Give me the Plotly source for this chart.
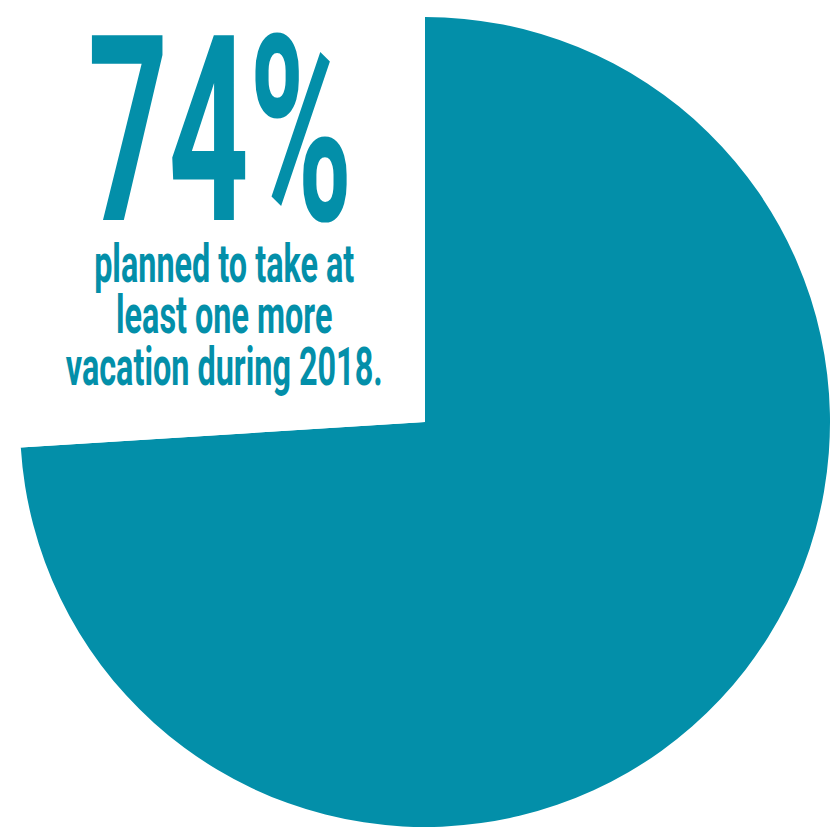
import plotly.graph_objects as go

# Share of respondents planning another vacation in 2018
labels = ["Planned another vacation", "Did not"]
values = [74, 26]
slice_colors = ["#038FA9", "#FFFFFF"]

headline = "74%"
caption_lines = ["planned to take at", "least one more", "vacation during 2018."]

TEAL = "#038FA9"
W, H = 830, 827
FONT = "Roboto, Lato, sans-serif"

# Layout of the text block (pixels from the top-left corner)
HEAD_CX, HEAD_CY, HEAD_SIZE, HEAD_WIDTH = 220, 131, 260, 265
CAP_CX, CAP_SIZE, CAP_WIDTH = 224, 54, 317
CAP_FIRST_BASELINE, CAP_LINE_PX = 282, 51.5

fig = go.Figure(
    go.Pie(
        labels=labels,
        values=values,
        marker=dict(colors=slice_colors, line=dict(width=0)),
        sort=False,
        direction="clockwise",
        rotation=0,
        textinfo="none",
        hoverinfo="skip",
        showlegend=False,
        domain=dict(x=[20 / W, 1.0], y=[0.0, 810 / H]),
    )
)

fig.add_annotation(
    text=f"<b>{headline}</b>",
    x=HEAD_CX / W, y=1 - HEAD_CY / H, xref="paper", yref="paper",
    xanchor="center", yanchor="middle", showarrow=False,
    font=dict(family=FONT, size=HEAD_SIZE, color=TEAL),
)

fig.add_annotation(
    text="<br>".join(f"<b>{line}</b>" for line in caption_lines),
    x=CAP_CX / W, y=1 - 320 / H, xref="paper", yref="paper",
    xanchor="center", yanchor="middle", showarrow=False, align="center",
    font=dict(family=FONT, size=CAP_SIZE, color=TEAL),
)

fig.update_layout(
    width=W, height=H,
    margin=dict(l=0, r=0, t=0, b=0),
    paper_bgcolor="white", plot_bgcolor="white",
)

# Narrow display type: condense the text horizontally and tighten caption leading
condense_js = """
var gd = document.getElementById('{plot_id}');
var ann = gd.querySelectorAll('g.annotation');
var head = ann[0].querySelector('text.annotation-text');
if (head) {
  var hb = head.getBBox();
  var hx = hb.x + hb.width / 2;
  var hs = %(head_w)s / hb.width;
  head.setAttribute('transform',
    'translate(' + hx + ',0) scale(' + hs + ',1) translate(' + (-hx) + ',0)');
}
var cap = ann[1].querySelector('text.annotation-text');
if (cap) {
  var em = %(line_px)s / %(cap_size)s;
  cap.querySelectorAll('tspan.line').forEach(function(ts, k) {
    ts.setAttribute('dy', (k * em) + 'em');
  });
  var cb = cap.getBBox();
  var cx = cb.x + cb.width / 2;
  var cs = %(cap_w)s / cb.width;
  var y0 = parseFloat(cap.getAttribute('y'));
  var m = cap.getCTM();
  var shift = (%(first_base)s - (m.f + m.d * y0)) / m.d;
  cap.setAttribute('transform',
    'translate(0,' + shift + ') translate(' + cx + ',0) scale(' + cs + ',1) translate(' + (-cx) + ',0)');
}
""" % dict(head_w=HEAD_WIDTH, cap_w=CAP_WIDTH, cap_size=CAP_SIZE,
           line_px=CAP_LINE_PX, first_base=CAP_FIRST_BASELINE)

fig.write_html("out.html", post_script=condense_js)
